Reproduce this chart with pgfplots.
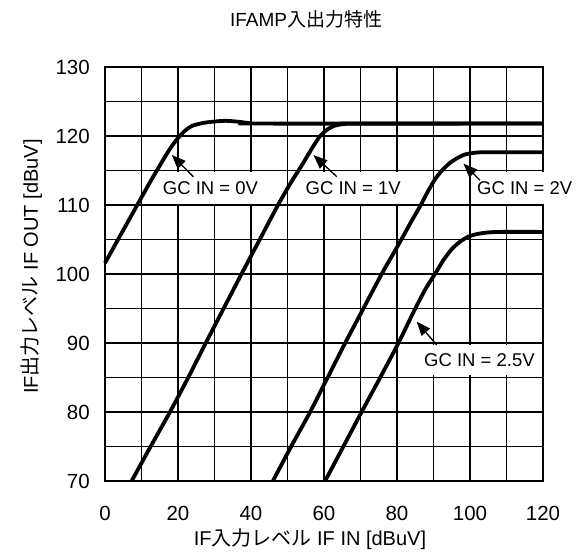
\documentclass[border=0pt]{standalone}
\usepackage{fontspec}
\setmainfont{Liberation Sans}
\newfontfamily\jp{Noto Sans CJK JP}
\usepackage{pgfplots}
\pgfplotsset{compat=1.18}
\usetikzlibrary{arrows.meta}

% measured transfer curves, one table per gain-control voltage
\pgfplotstableread{
x y
0 101.6
4 105.4
8 109.2
12 113.0
16 116.6
18 118.3
20 119.7
22 120.8
24 121.5
27 121.9
30 122.1
33 122.2
36 122.1
39 121.9
41 121.8
120 121.8
}\gcZero
\pgfplotstableread{
x y
7.3 70
12.5 75
17.8 80
22.8 85
27.6 90
32.5 95
37.4 100
42.4 105
47.4 110
51 113.3
54.2 116
56.8 118.3
58.8 119.9
60.8 120.9
63 121.5
65.5 121.75
68 121.8
120 121.8
}\gcOne
\pgfplotstableread{
x y
46 70
51 75
56.2 80
61 85
65.8 90
70.8 95
75.8 100
78.5 102.5
81.2 105
83.8 107.5
86.3 109.8
88.5 112
90.5 113.8
92.5 115.1
94.5 116.1
96.5 116.8
98.5 117.3
101 117.55
104 117.65
120 117.65
}\gcTwo
\pgfplotstableread{
x y
60.3 70
65.3 75
70.3 80
75.4 85
80.4 90
85 95
88 98
90.4 100
92.7 102
95 103.6
97.3 104.7
99.5 105.4
102 105.8
104.6 106.0
108 106.1
120 106.1
}\gcTwoHalf

\begin{document}
\begin{tikzpicture}
\begin{axis}[
  at={(0,0)}, anchor=south west,
  scale only axis, width=438bp, height=414bp,
  xmin=0, xmax=120, ymin=70, ymax=130,
  xtick={0,20,...,120}, ytick={70,80,...,130},
  minor x tick num=1, minor y tick num=1,
  grid=both,
  major grid style={black, line width=1.1bp},
  minor grid style={black, line width=0.8bp},
  axis line style={black, line width=1.6bp},
  major tick length=0pt, minor tick length=0pt,
  /pgf/number format/assume math mode=true,
  ticklabel style={font=\fontsize{20.5bp}{24bp}\selectfont, inner sep=0pt},
  xticklabel style={anchor=north, yshift=-24.5bp},
  yticklabel style={anchor=east, xshift=-15bp},
  title={IFAMP{\jp 入出力特性}},
  title style={font=\fontsize{19bp}{23bp}\selectfont, at={(axis description cs:0.459,1.1015)}, anchor=center, inner sep=0pt},
  xlabel={IF{\jp 入力レベル} IF IN [dBuV]},
  xlabel style={font=\fontsize{20bp}{24bp}\selectfont, at={(axis description cs:0.468,-0.140)}, anchor=center, inner sep=0pt},
  ylabel={IF{\jp 出力レベル} IF OUT [dBuV]},
  ylabel style={font=\fontsize{20bp}{24bp}\selectfont, at={(axis description cs:-0.1674,0.518)}, anchor=center, inner sep=0pt, rotate=0},
  clip=false,
]
% white label panels over the grid
\fill[white] (axis cs:15.1,110.15) rectangle (axis cs:43.3,114.8);
\fill[white] (axis cs:54.2,110.15) rectangle (axis cs:82.2,114.8);
\fill[white] (axis cs:101.4,110.15) rectangle (axis cs:128.8,114.8);
\fill[white] (axis cs:87.1,85.4) rectangle (axis cs:119.2,89.7);

\addplot[black, line width=3.8bp, smooth, tension=0.4] table {\gcZero};
\addplot[black, line width=3.8bp, smooth, tension=0.4] table {\gcOne};
\addplot[black, line width=3.8bp, smooth, tension=0.4] table {\gcTwo};
\addplot[black, line width=3.8bp, smooth, tension=0.4] table {\gcTwoHalf};

\begin{scope}[every node/.style={font=\fontsize{18.5bp}{22bp}\selectfont, inner sep=0pt}]
\node at (axis cs:28.9,112.5) {GC IN = 0V};
\node at (axis cs:68.0,112.5) {GC IN = 1V};
\node at (axis cs:115.0,112.5) {GC IN = 2V};
\node at (axis cs:102.6,87.5) {GC IN = 2.5V};
\end{scope}

\begin{scope}[line width=1.3bp, -{Triangle[length=14bp,width=11bp]}]
\draw (axis cs:24.2,114.1) -- (axis cs:18.3,117.25);
\draw (axis cs:63.5,114.1) -- (axis cs:57.1,117.25);
\draw (axis cs:102.7,113.6) -- (axis cs:98.2,116.0);
\draw (axis cs:90.9,89.7) -- (axis cs:85.4,93.1);
\end{scope}
\end{axis}
\pgfresetboundingbox
\path (-105bp,-75bp) rectangle (474bp,481bp);
\end{tikzpicture}
\end{document}
